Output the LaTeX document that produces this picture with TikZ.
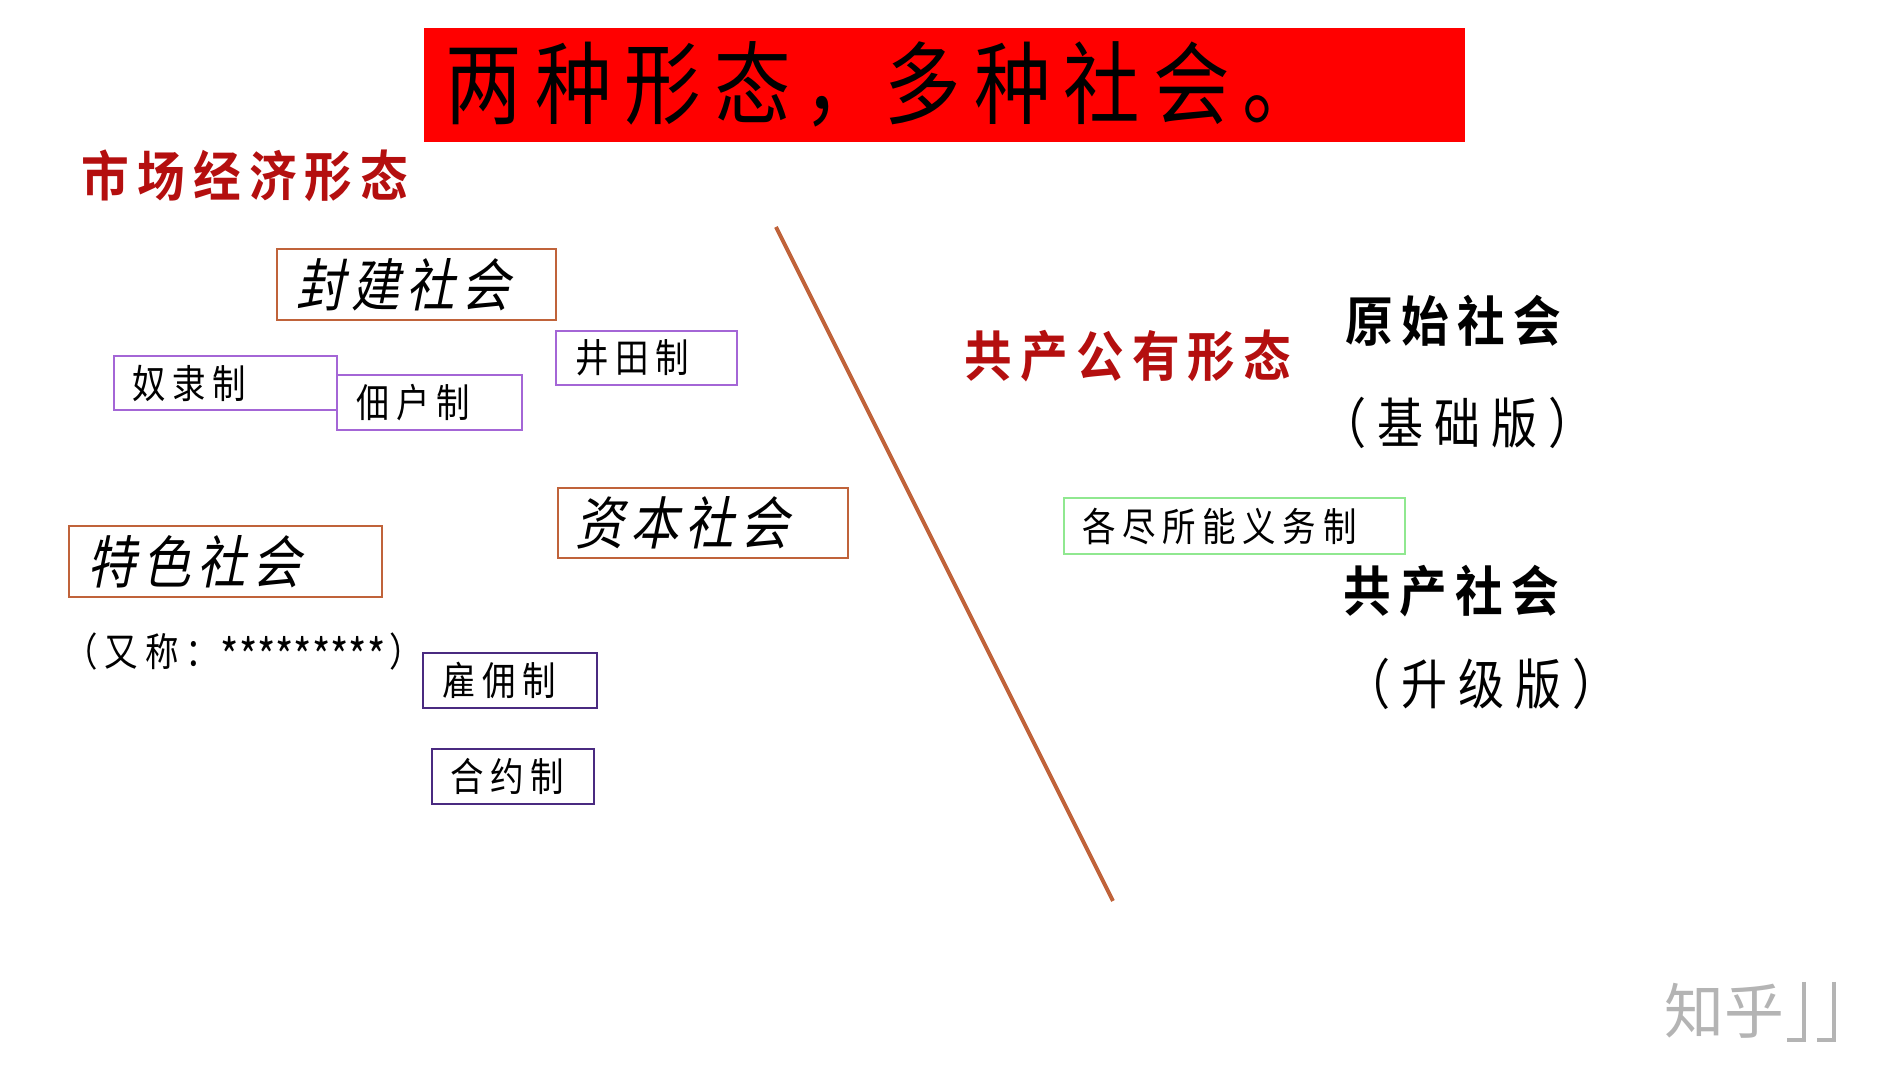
\documentclass[tikz,border=0pt]{standalone}
\usepackage{fontspec}
\setmainfont{Noto Sans CJK SC}
% 1 unit = 1 reference pixel = 0.01cm = 0.2845pt
\newfontfamily\ftitle[FakeStretch=.85,LetterSpace=14.5]{Noto Sans CJK SC}
\newfontfamily\fsmall[FakeStretch=.85,LetterSpace=17]{Noto Sans CJK SC}
\newfontfamily\fplain[FakeStretch=.82]{Noto Sans CJK SC}
\newfontfamily\fital[FakeSlant=.2,FakeStretch=.85,LetterSpace=11.6]{Noto Sans CJK SC}
\newfontfamily\fbold[FakeStretch=.88,LetterSpace=15]{Noto Sans CJK SC Bold}
\newfontfamily\fmid[FakeStretch=.85,LetterSpace=20]{Noto Sans CJK SC}
\definecolor{brownline}{HTML}{C0633A}
\definecolor{violetline}{HTML}{A466D6}
\definecolor{darkviolet}{HTML}{4A2A80}
\definecolor{greenline}{HTML}{90E890}
\definecolor{headred}{HTML}{B40F0F}
\definecolor{markgrey}{HTML}{B4B4B4}
\tikzset{
  framed/.style={draw,line width=.65pt,inner sep=0pt,anchor=north west},
  brownbox/.style={framed,draw=brownline},
  violetbox/.style={framed,draw=violetline},
  darkbox/.style={framed,draw=darkviolet},
  greenbox/.style={framed,draw=greenline},
  titlebox/.style={anchor=north west,inner sep=0pt,fill=red},
  plaintext/.style={anchor=west,inner sep=0pt,text=black},
  redhead/.style={plaintext,text=headred},
  divider/.style={draw=brownline,line width=1.1pt},
  wmtext/.style={anchor=west,inner sep=0pt,text=markgrey},
  wmline/.style={draw=markgrey,line width=1.2pt}
}
\newcommand{\bigtxt}[1]{{\fontsize{16.2pt}{17pt}\fital #1}}
\newcommand{\smalltxt}[1]{{\fontsize{11.2pt}{12pt}\fsmall #1}}
\newcommand{\headtxt}[1]{{\fontsize{15.4pt}{16pt}\fbold #1}}
\newcommand{\midtxt}[1]{{\fontsize{15.4pt}{16pt}\fmid #1}}
% name, x0, y0, x1, y1, text offset, style, text
\newcommand{\boxnode}[8]{%
  \pgfmathsetmacro\bw{(#4-#2)*0.01}%
  \pgfmathsetmacro\bh{(#5-#3)*0.01}%
  \pgfmathsetmacro\bo{(#6)*0.01}%
  \node[#7,minimum width=\bw cm,minimum height=\bh cm] (#1) at (#2-1,#3-1)
    {\hbox to \bw cm{\hspace{\bo cm}#8\hfil}};}
\begin{document}
\begin{tikzpicture}[x=0.01cm,y=-0.01cm]
\useasboundingbox[fill=white] (0,0) rectangle (1887,1080);

\boxnode{title}{424}{28}{1465}{142}{22}{titlebox}{{\fontsize{25.6pt}{26pt}\ftitle 两种形态，\hspace{.04cm}多种社会。}}

\node[redhead] (market) at (81,176) {\headtxt{市场经济形态}};
\node[redhead] (public) at (964,356) {\headtxt{共产公有形态}};

\boxnode{feudal}{277}{249}{556}{320}{19}{brownbox}{\bigtxt{封建社会}}
\boxnode{jingtian}{556}{331}{737}{385}{19}{violetbox}{\smalltxt{井田制}}
\boxnode{slave}{114}{356}{337}{410}{18}{violetbox}{\smalltxt{奴隶制}}
\boxnode{tenant}{337}{375}{522}{430}{19}{violetbox}{\smalltxt{佃户制}}
\boxnode{capital}{558}{488}{848}{558}{17}{brownbox}{\bigtxt{资本社会}}
\boxnode{special}{69}{526}{382}{597}{18}{brownbox}{\bigtxt{特色社会}}
\node[plaintext] (alias) at (64,654) {\smalltxt{（又称：}\hspace{.02cm}\raisebox{-2.2pt}{\fontsize{13.6pt}{14pt}\fplain *********}\hspace{.04cm}\smalltxt{）}};
\boxnode{hire}{423}{653}{597}{708}{19}{darkbox}{\smalltxt{雇佣制}}
\boxnode{contract}{432}{749}{594}{804}{18}{darkbox}{\smalltxt{合约制}}
\boxnode{duty}{1064}{498}{1405}{554}{18}{greenbox}{\smalltxt{各尽所能义务制}}

\coordinate (divtop) at (776,227);
\coordinate (divbot) at (1113,901);
\draw[divider] (divtop) -- (divbot);

\node[plaintext] (primitive) at (1345,321) {\headtxt{原始社会}};
\node[plaintext] (basic) at (1320,423) {\midtxt{（基础版）}};
\node[plaintext] (communist) at (1343,591) {\headtxt{共产社会}};
\node[plaintext] (upgraded) at (1344,684) {\midtxt{（升级版）}};

\node[wmtext] (zhihu) at (1664,1011) {{\fontsize{17pt}{18pt}\selectfont 知乎}};
\coordinate (ma) at (1804,982);
\coordinate (mb) at (1804,1040);
\coordinate (mc) at (1787,1040);
\coordinate (md) at (1834,982);
\coordinate (me) at (1834,1040);
\coordinate (mf) at (1817,1040);
\draw[wmline] (ma) -- (mb) -- (mc);
\draw[wmline] (md) -- (me) -- (mf);
\end{tikzpicture}
\end{document}
